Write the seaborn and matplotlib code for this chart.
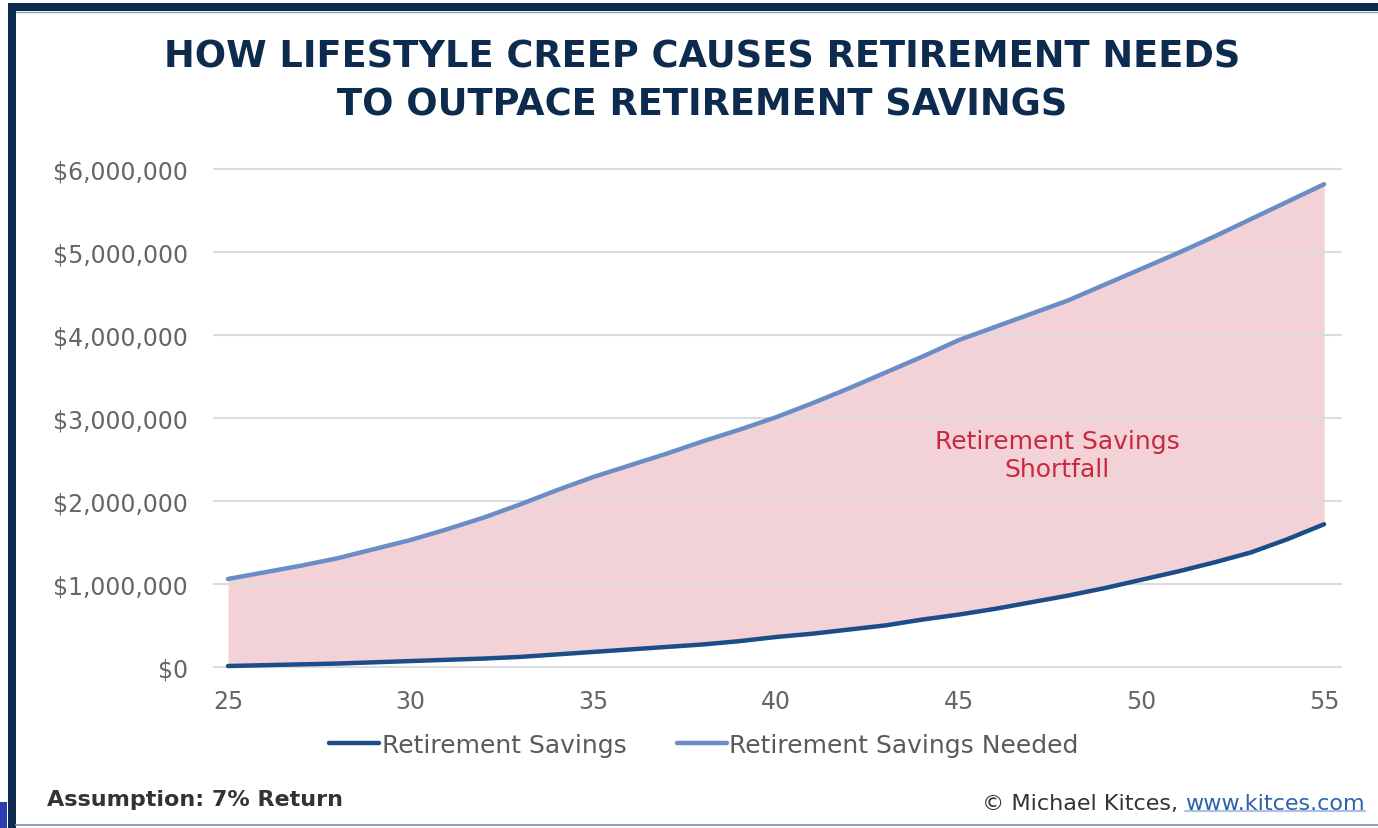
import numpy as np
import pandas as pd
import matplotlib
matplotlib.use("Agg")
import matplotlib.pyplot as plt
from matplotlib.patches import Rectangle
from matplotlib.lines import Line2D
import seaborn as sns

# ---- data (values in dollars, by age) ----
ages = list(range(25, 56))
savings_m = [0.01, 0.02, 0.03, 0.04, 0.055, 0.07, 0.085, 0.10, 0.12, 0.15,
             0.18, 0.21, 0.24, 0.27, 0.31, 0.36, 0.40, 0.45, 0.50, 0.57,
             0.63, 0.70, 0.78, 0.86, 0.95, 1.05, 1.15, 1.26, 1.38, 1.54, 1.72]
needed_m = [1.06, 1.14, 1.22, 1.31, 1.42, 1.53, 1.66, 1.80, 1.96, 2.13,
            2.29, 2.43, 2.57, 2.72, 2.86, 3.01, 3.18, 3.36, 3.55, 3.74,
            3.94, 4.10, 4.26, 4.42, 4.61, 4.80, 4.99, 5.19, 5.40, 5.61, 5.82]
series_names = ["Retirement Savings", "Retirement Savings Needed"]
x_ticks = [25, 30, 35, 40, 45, 50, 55]
y_ticks = [0, 1_000_000, 2_000_000, 3_000_000, 4_000_000, 5_000_000, 6_000_000]
y_tick_labels = ["$0", "$1,000,000", "$2,000,000", "$3,000,000",
                 "$4,000,000", "$5,000,000", "$6,000,000"]

savings = [v * 1_000_000 for v in savings_m]
needed = [v * 1_000_000 for v in needed_m]

df = pd.DataFrame({
    "age": ages * 2,
    "value": savings + needed,
    "series": [series_names[0]] * len(ages) + [series_names[1]] * len(ages),
})

# ---- style ----
sns.set_theme(style="white")
plt.rcParams["font.family"] = ["DejaVu Sans"]

NAVY = "#0d2b4f"
DARK_LINE = "#1c4d89"
LIGHT_LINE = "#6b8dc5"
FILL = "#f2d2d6"
GRID = "#dcdcdc"
TICK = "#666666"

W, H = 1378, 829
fig = plt.figure(figsize=(W / 100, H / 100), dpi=100)
fig.patch.set_facecolor("white")

def fx(px):
    return px / W

def fy(py):
    return 1 - py / H

ax = fig.add_axes([fx(213), fy(672), fx(1342) - fx(213), fy(162) - fy(672)])

ax.fill_between(ages, savings, needed, color=FILL, linewidth=0, zorder=1)
sns.lineplot(data=df, x="age", y="value", hue="series", hue_order=series_names,
             palette=[DARK_LINE, LIGHT_LINE], linewidth=3.2, ax=ax,
             legend=False, zorder=3)
for ln in ax.lines:
    ln.set_solid_capstyle("round")

ax.set_xlim(24.59, 55.49)
ax.set_ylim(-50_000, 6_100_000)
ax.set_xticks(x_ticks)
ax.set_xticklabels([str(t) for t in x_ticks])
ax.set_yticks(y_ticks)
ax.set_yticklabels(y_tick_labels)
ax.set_xlabel("")
ax.set_ylabel("")
ax.grid(axis="y", color=GRID, linewidth=1.5, zorder=2)
ax.grid(axis="x", visible=False)
ax.set_axisbelow(False)
for s in ax.spines.values():
    s.set_visible(False)
ax.tick_params(axis="y", length=0, pad=18, labelsize=17, labelcolor=TICK)
ax.tick_params(axis="x", length=0, pad=13, labelsize=17, labelcolor=TICK)

ax.text(47.7, 2_550_000, "Retirement Savings\nShortfall", ha="center",
        va="center", color="#c9283e", fontsize=18, linespacing=1.2, zorder=4)

# ---- title ----
fig.text(fx(702), fy(57), "HOW LIFESTYLE CREEP CAUSES RETIREMENT NEEDS",
         ha="center", va="center", fontsize=26.5, fontweight="bold", color=NAVY)
fig.text(fx(702), fy(105), "TO OUTPACE RETIREMENT SAVINGS",
         ha="center", va="center", fontsize=26.5, fontweight="bold", color=NAVY)

# ---- legend ----
handles = [Line2D([], [], color=DARK_LINE, linewidth=3.2),
           Line2D([], [], color=LIGHT_LINE, linewidth=3.2)]
fig.legend(handles, series_names, loc="center", bbox_to_anchor=(fx(704), fy(746)),
           ncol=2, frameon=False, fontsize=18, handlelength=2.0,
           handletextpad=0.1, columnspacing=2.0, labelcolor="#5a5a5a")

# ---- footer ----
fig.text(fx(47), fy(800), "Assumption: 7% Return", ha="left", va="center",
         fontsize=16, fontweight="bold", color="#333333")
url = fig.text(fx(1365), fy(804), "www.kitces.com", ha="right", va="center",
               fontsize=16, color="#2f62aa")
prefix = ax.annotate("\u00a9 Michael Kitces, ", xy=(0, 0.5), xycoords=url,
                     ha="right", va="center", fontsize=16, color="#333333",
                     annotation_clip=False)

fig.canvas.draw()
bb = url.get_window_extent().transformed(fig.transFigure.inverted())
fig.add_artist(Line2D([bb.x0, bb.x1], [bb.y0 + 0.002, bb.y0 + 0.002],
                      transform=fig.transFigure, color="#a9c3e6", linewidth=1.5))

# ---- page frame ----
fig.add_artist(Rectangle((fx(8), 0), fx(16) - fx(8), fy(4), transform=fig.transFigure,
                         color=NAVY, linewidth=0))
fig.add_artist(Rectangle((fx(8), fy(12)), 1 - fx(8), fy(4) - fy(12),
                         transform=fig.transFigure, color=NAVY, linewidth=0))
fig.add_artist(Line2D([fx(16), 1], [fy(12.5), fy(12.5)], transform=fig.transFigure,
                      color="#8d9db4", linewidth=1))
fig.add_artist(Line2D([fx(16), 1], [fy(826), fy(826)], transform=fig.transFigure,
                      color="#8fa0b8", linewidth=1.5))
fig.add_artist(Rectangle((0, 0), fx(7), fy(803), transform=fig.transFigure,
                         color="#2b3db2", linewidth=0))

fig.savefig("out.png", dpi=100, facecolor="white")
